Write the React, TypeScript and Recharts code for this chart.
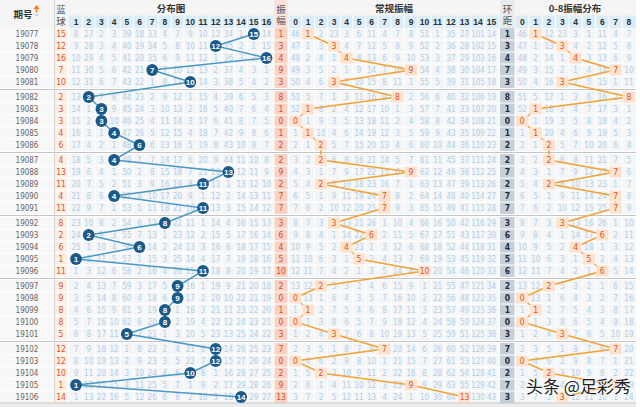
import { ScatterChart, Scatter, XAxis, YAxis, ReferenceArea, ReferenceLine } from 'recharts';

const issues = [
  '19077', '19078', '19079', '19080', '19081', '19082', '19083', '19084', '19085', '19086',
  '19087', '19088', '19089', '19090', '19091', '19092', '19093', '19094', '19095', '19096',
  '19097', '19098', '19099', '19100', '19101', '19102', '19103', '19104', '19105', '19106',
];
const blueBalls = [15, 12, 16, 7, 10, 2, 3, 3, 4, 6, 4, 13, 11, 4, 11, 8, 2, 6, 1, 11, 9, 9, 8, 8, 5, 12, 12, 10, 1, 14];
const swings = [1, 3, 4, 9, 3, 8, 1, 0, 1, 2, 2, 9, 2, 7, 7, 3, 6, 4, 5, 10, 2, 0, 1, 0, 3, 7, 0, 2, 9, 13];
const ringGaps = [1, 3, 4, 7, 3, 8, 1, 0, 1, 2, 2, 7, 2, 7, 7, 3, 6, 4, 5, 6, 2, 0, 1, 0, 3, 7, 0, 2, 7, 3];

const distCols = ['1', '2', '3', '4', '5', '6', '7', '8', '9', '10', '11', '12', '13', '14', '15', '16'];
const swingCols = ['0', '1', '2', '3', '4', '5', '6', '7', '8', '9', '10', '11', '12', '13', '14', '15'];
const ringCols = ['0', '1', '2', '3', '4', '5', '6', '7', '8'];

// omission counts printed on the first row (19077); the hit cell is 0
const distFirstMiss = [8, 27, 2, 3, 39, 18, 33, 4, 7, 9, 10, 12, 34, 1, 0, 14];
const swingFirstMiss = [46, 0, 2, 23, 3, 6, 11, 4, 7, 8, 51, 1, 35, 27, 101, 14];
const ringFirstMiss = [46, 0, 12, 23, 3, 1, 11, 4, 7];

// layout
const W = 640;
const H = 407;
const ROW_TOP = 34;
const ROW_H = 12;
const ISSUE_X = 27;
const BLUE_X = 61;
const SWING_X = 281;
const RING_X = 507.5;
const distX = distCols.map((_, i) => 76 + i * 12.7);
const swingX = [295.5, 308, 321, 334, 346.5, 359, 371.5, 384.5, 397.5, 411, 424.5, 437.5, 451, 464.5, 478, 491.5];
const ringX = ringCols.map((_, i) => 522.3 + i * 13.33);
const rowPos = (i: number) => i + 0.25 * Math.floor(i / 5);
const BODY_TOP = -0.5;
const BODY_END = rowPos(issues.length - 1) + 0.5;

const NUM_FONT = "'Liberation Sans Narrow', 'DejaVu Sans Condensed', 'Liberation Sans', sans-serif";
const HEAD_FONT = "'Liberation Sans', Arial, sans-serif";
const CJK_FONT = "'Noto Sans CJK SC', sans-serif";

// carry each column's omission count down the rows
function missTable(first: number[], hits: number[]) {
  const out: number[][] = [];
  let prev = first;
  hits.forEach((_, i) => {
    const cur = i === 0 ? first : prev.map((v, c) => (c === hits[i - 1] ? 1 : v + 1));
    out.push(cur);
    prev = cur;
  });
  return out;
}

const distHits = blueBalls.map((b) => b - 1);
const missData = [
  { cols: distX, first: distFirstMiss, hits: distHits },
  { cols: swingX, first: swingFirstMiss, hits: swings },
  { cols: ringX, first: ringFirstMiss, hits: ringGaps },
].flatMap(({ cols, first, hits }) =>
  missTable(first, hits).flatMap((row, i) =>
    row
      .map((v, c) => ({ x: cols[c], y: rowPos(i), t: String(v), hit: c === hits[i] }))
      .filter((d) => !d.hit)
  )
);

const issueData = issues.map((t, i) => ({ x: ISSUE_X, y: rowPos(i), t }));
const blueData = blueBalls.map((v, i) => ({ x: BLUE_X, y: rowPos(i), t: String(v) }));
const swingData = swings.map((v, i) => ({ x: SWING_X, y: rowPos(i), t: String(v) }));
const ringData = ringGaps.map((v, i) => ({ x: RING_X, y: rowPos(i), t: String(v) }));
const ballTrend = blueBalls.map((v, i) => ({ x: distX[v - 1], y: rowPos(i), t: String(v) }));
const swingTrend = swings.map((v, i) => ({ x: swingX[v], y: rowPos(i), t: String(v) }));
const ringTrend = ringGaps.map((v, i) => ({ x: ringX[v], y: rowPos(i), t: String(v) }));

const colHeads = [
  ...distCols.map((t, i) => ({ x: distX[i], y: -1, t })),
  ...swingCols.map((t, i) => ({ x: swingX[i], y: -1, t })),
  ...ringCols.map((t, i) => ({ x: ringX[i], y: -1, t })),
];
const titles = [
  { x: 23, y: -1.65, t: '期号' },
  { x: 171, y: -2.17, t: '分布图' },
  { x: 394, y: -2.17, t: '常规振幅' },
  { x: 575, y: -2.17, t: '0-8振幅分布' },
];
const subTitles = [
  { x: BLUE_X, y: -2.1, t: '蓝' },
  { x: BLUE_X, y: -1.12, t: '球' },
  { x: SWING_X, y: -2.05, t: '振' },
  { x: SWING_X, y: -1.15, t: '幅' },
  { x: RING_X, y: -2.1, t: '环' },
  { x: RING_X, y: -1.15, t: '距' },
];

const textShape = (fill: string, size: number, weight: string | number, family: string) => (p: any) => (
  <text
    x={p.cx}
    y={p.cy}
    fill={fill}
    fontSize={size}
    fontWeight={weight}
    fontFamily={family}
    textAnchor="middle"
    dominantBaseline="central"
  >
    {p.payload.t}
  </text>
);

const BallDot = (p: any) => (
  <g>
    <circle cx={p.cx} cy={p.cy} r={5.9} fill="#1a5a8a" />
    <text x={p.cx} y={p.cy} fill="#fff" fontSize={8} fontWeight="bold" fontFamily={HEAD_FONT} textAnchor="middle" dominantBaseline="central">
      {p.payload.t}
    </text>
  </g>
);

const HitCell = (p: any) => (
  <g>
    <rect x={p.cx - 6.2} y={p.cy - 5.5} width={12.4} height={11} fill="#fde2cd" />
    <text x={p.cx} y={p.cy} fill="#e0521d" fontSize={8.5} fontFamily={NUM_FONT} textAnchor="middle" dominantBaseline="central">
      {p.payload.t}
    </text>
  </g>
);

const SortIcon = (p: any) => (
  <g>
    <path d={`M${p.cx - 3},${p.cy - 1} L${p.cx},${p.cy - 5} L${p.cx + 3},${p.cy - 1} Z`} fill="#f07a2a" />
    <rect x={p.cx - 0.8} y={p.cy - 1.5} width={1.6} height={4} fill="#f07a2a" />
    <path d={`M${p.cx - 2.5},${p.cy + 4} L${p.cx},${p.cy + 7} L${p.cx + 2.5},${p.cy + 4} Z`} fill="#cfcfcf" />
  </g>
);

// column edges for grid lines
const edges = (xs: number[]) => xs.slice(1).map((x, i) => (x + xs[i]) / 2);
const innerLines = [...edges(distX), ...edges(swingX), ...edges(ringX)];
const groupEnds = [4, 9, 14, 19, 24];
const rowLines = issues
  .map((_, i) => i)
  .filter((i) => i < issues.length - 1 && !groupEnds.includes(i))
  .map((i) => rowPos(i) + 0.5);

const bodyBands = [
  { x1: 0, x2: 54, fill: '#f8f8f8' },
  { x1: 55, x2: 67.5, fill: '#fdefe4' },
  { x1: 69, x2: 273.5, fill: '#f4f5f7' },
  { x1: 274.5, x2: 287.5, fill: '#f8d1c3' },
  { x1: 289, x2: 498.5, fill: '#f4f5f7' },
  { x1: 500, x2: 514.5, fill: '#c6cfd9' },
  { x1: 515.5, x2: 636, fill: '#f4f5f7' },
];
const headStrips = [
  { x1: 69, x2: 273.5 },
  { x1: 289, x2: 498.5 },
  { x1: 515.5, x2: 636 },
];

export default function App() {
  return (
    <div style={{ position: 'relative', width: W, height: H, background: '#fff' }}>
      <style>{'body{margin:0}'}</style>
      <ScatterChart width={W} height={H} margin={{ top: 0, right: 0, bottom: 0, left: 0 }}>
        <XAxis type="number" dataKey="x" domain={[0, W]} hide allowDataOverflow />
        <YAxis
          type="number"
          dataKey="y"
          domain={[-ROW_TOP / ROW_H, (H - ROW_TOP) / ROW_H]}
          reversed
          hide
          allowDataOverflow
        />

        <ReferenceArea x1={0} x2={636} y1={-ROW_TOP / ROW_H} y2={BODY_TOP} fill="#f5f5f5" fillOpacity={1} stroke="none" />
        {headStrips.map((s, i) => (
          <ReferenceArea key={'hs' + i} x1={s.x1} x2={s.x2} y1={-1.55} y2={BODY_TOP} fill="#dbedf9" fillOpacity={1} stroke="none" />
        ))}
        <ReferenceArea x1={274.5} x2={287.5} y1={-ROW_TOP / ROW_H} y2={BODY_TOP} fill="#fbe1d7" fillOpacity={1} stroke="none" />
        <ReferenceArea x1={500} x2={514.5} y1={-ROW_TOP / ROW_H} y2={BODY_TOP} fill="#e7eaee" fillOpacity={1} stroke="none" />
        {bodyBands.map((b, i) => (
          <ReferenceArea key={'bb' + i} x1={b.x1} x2={b.x2} y1={BODY_TOP} y2={BODY_END} fill={b.fill} fillOpacity={1} stroke="none" />
        ))}
        <ReferenceArea x1={0} x2={636} y1={BODY_END + 0.05} y2={(H - ROW_TOP) / ROW_H} fill="#ececec" fillOpacity={1} stroke="none" />

        {innerLines.map((x, i) => (
          <ReferenceLine key={'vl' + i} segment={[{ x, y: -1.55 }, { x, y: BODY_END }]} stroke="#ffffff" strokeWidth={1} />
        ))}
        {rowLines.map((y, i) => (
          <ReferenceLine key={'hl' + i} segment={[{ x: 0, y }, { x: 636, y }]} stroke="#ffffff" strokeWidth={1} />
        ))}
        {groupEnds.map((g, i) => (
          <ReferenceArea key={'gg' + i} x1={0} x2={640} y1={rowPos(g) + 0.5} y2={rowPos(g + 1) - 0.5} fill="#ffffff" fillOpacity={1} stroke="none" />
        ))}
        {groupEnds.map((g, i) => (
          <ReferenceLine key={'gl' + i} segment={[{ x: 0, y: rowPos(g) + 0.625 }, { x: 636, y: rowPos(g) + 0.625 }]} stroke="#c4c4c4" strokeWidth={1.2} />
        ))}
        <ReferenceLine segment={[{ x: 0, y: BODY_END }, { x: 636, y: BODY_END }]} stroke="#c4c4c4" strokeWidth={1} />
        <ReferenceLine segment={[{ x: 54.5, y: -ROW_TOP / ROW_H }, { x: 54.5, y: BODY_END }]} stroke="#d2d2d2" strokeWidth={1} />

        <Scatter data={missData} shape={textShape('#b1cfe7', 8, 'normal', NUM_FONT)} isAnimationActive={false} />
        <Scatter data={issueData} shape={textShape('#666666', 8, 'normal', NUM_FONT)} isAnimationActive={false} />
        <Scatter data={blueData} shape={textShape('#e0561f', 8.5, 'normal', NUM_FONT)} isAnimationActive={false} />
        <Scatter data={swingData} shape={textShape('#cf5128', 8.5, 'normal', NUM_FONT)} isAnimationActive={false} />
        <Scatter data={ringData} shape={textShape('#252c36', 8.5, 'bold', NUM_FONT)} isAnimationActive={false} />

        <Scatter data={colHeads} shape={textShape('#2f2f2f', 8.5, 'bold', HEAD_FONT)} isAnimationActive={false} />
        <Scatter data={titles} shape={textShape('#333333', 9.5, 'bold', CJK_FONT)} isAnimationActive={false} />
        <Scatter data={subTitles} shape={textShape('#555555', 9.5, 'normal', CJK_FONT)} isAnimationActive={false} />
        <Scatter data={[{ x: 36.5, y: -2.0 }]} shape={SortIcon} isAnimationActive={false} />

        <Scatter
          data={swingTrend}
          line={{ stroke: '#f3a234', strokeWidth: 1.6 }}
          lineType="joint"
          shape={HitCell}
          isAnimationActive={false}
        />
        <Scatter
          data={ringTrend}
          line={{ stroke: '#f3a234', strokeWidth: 1.6 }}
          lineType="joint"
          shape={HitCell}
          isAnimationActive={false}
        />
        <Scatter
          data={ballTrend}
          line={{ stroke: '#4a98c6', strokeWidth: 1.5 }}
          lineType="joint"
          shape={BallDot}
          isAnimationActive={false}
        />
      </ScatterChart>
      <div
        style={{
          position: 'absolute',
          left: 526,
          top: 375,
          fontSize: 17,
          fontFamily: CJK_FONT,
          color: '#222',
          textShadow: '0 0 2px #fff, 0 0 2px #fff, 0 0 3px #fff',
          whiteSpace: 'nowrap',
          lineHeight: '22px',
        }}
      >
        头条 @足彩秀
      </div>
    </div>
  );
}
